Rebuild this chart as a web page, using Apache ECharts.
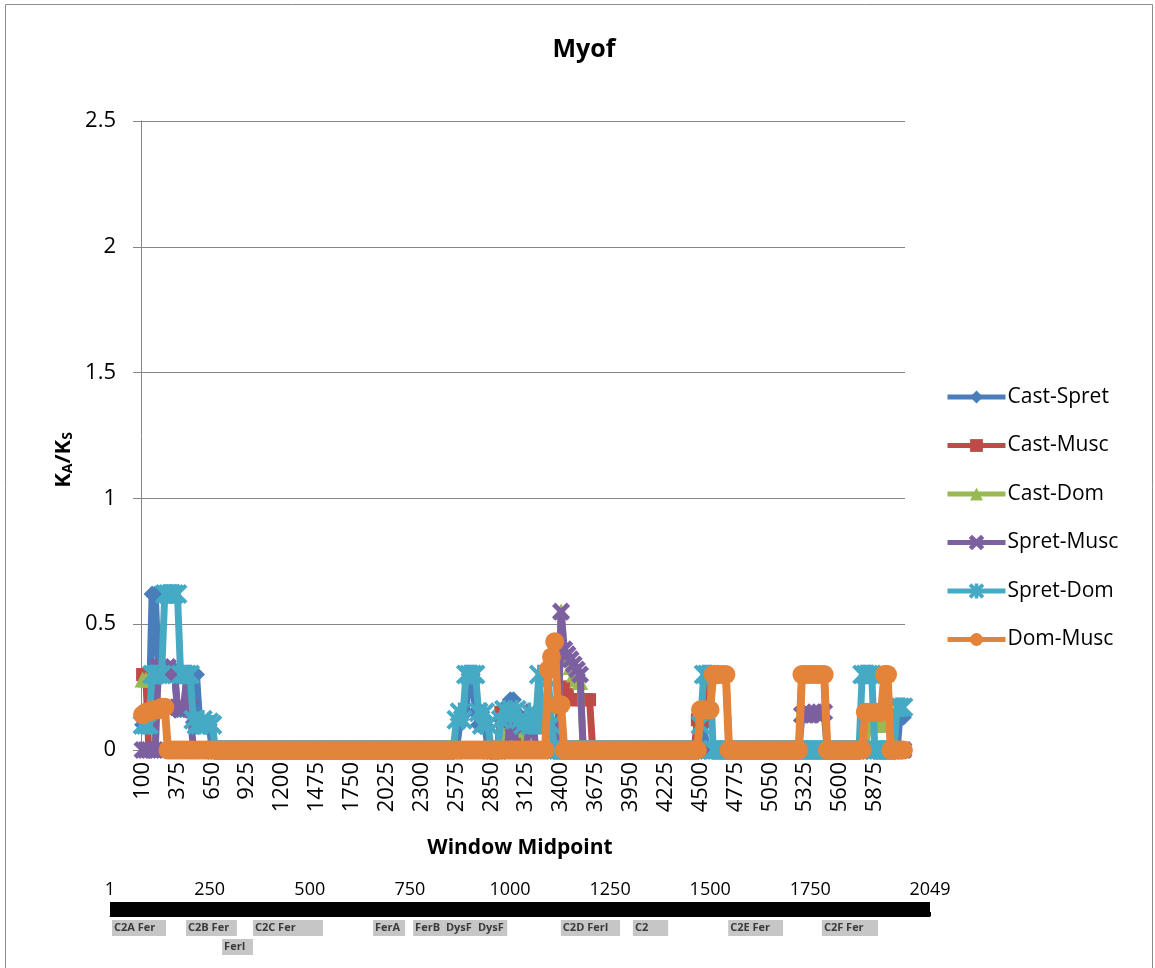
<!DOCTYPE html>
<html>
<head>
<meta charset="utf-8">
<script src="https://cdn.jsdelivr.net/npm/echarts@6/dist/echarts.min.js"></script>
<style>html,body{margin:0;padding:0;background:#fff}#c{width:1155px;height:968px}</style>
</head>
<body>
<div id="c"></div>
<script>
// ---- DATA ----
// Window midpoints: 100, 125, ... 6100 (step 25)
const windowStart = 100, windowStep = 25, windowCount = 241;
const categories = Array.from({length: windowCount}, (_, i) => String(windowStart + windowStep * i));
const seriesNames = ['Cast-Spret', 'Cast-Musc', 'Cast-Dom', 'Spret-Musc', 'Spret-Dom', 'Dom-Musc'];

// Runs of consecutive window values: [first midpoint, [values...]]; windows not listed read as 0
const castSpret = [
  [100, [0.1,0.1,0.1,0.62,0.62,0.3,0.3,0.32,0.3,0.32,0.32,0.16,0.16,0.16,0.3,0.3,0.11,0.3,0.11,0.1,0.1,0.1]],
  [2600, [0.1,0.15,0.15,0.3,0.3,0.15,0.1,0.15,0.1]],
  [2925, [0.12,0.15,0.18,0.2,0.2,0.15,0.12,0.1]],
  [4500, [0.1,0.1]],
  [6075, [0.15,0.13]]
];
const castMusc = [
  [100, [0.3,0.3]],
  [2925, [0.15,0.15,0.12,0.1,0.12,0.1]],
  [3375, [0.1,0.25,0.25,0.22,0.2,0.2,0.2,0.2,0.2,0.2,0.2]],
  [4475, [0.12,0.12,0.12,0.12,0.3,0.3,0.3,0.3,0.3,0.3]],
  [5300, [0.3,0.3,0.3,0.3,0.3,0.3,0.3,0.3]]
];
const castDom = [
  [100, [0.28,0.28,0.28,0.28]],
  [2975, [0.1,0.12,0.1,0.08,0.08,0.08]],
  [3300, [0.1,0.1,0.1,0.1,0.55,0.4,0.37,0.33,0.3,0.28,0.27]],
  [5825, [0.1,0.1,0.1,0.1,0.1,0.1,0.1,0.1]]
];
const spretMusc = [
  [225, [0.33,0.33,0.3,0.33,0.3,0.32,0.17,0.16,0.17,0.3,0.17]],
  [3000, [0.12,0.1]],
  [3150, [0.12,0.15]],
  [3400, [0.55,0.4,0.38,0.36,0.34,0.32,0.3]],
  [5300, [0.14,0.14,0.15,0.14,0.15,0.14,0.14,0.15]]
];
const spretDom = [
  [100, [0.1,0.1,0.1,0.3,0.3,0.3,0.3,0.62,0.62,0.62,0.62,0.62,0.3,0.3,0.3,0.3,0.12,0.1,0.1,0.12,0.1,0.11,0.1]],
  [2575, [0.12,0.15,0.12,0.3,0.3,0.3,0.3,0.15,0.1,0.15,0.1]],
  [2925, [0.12,0.16,0.15,0.13,0.15,0.16,0.12,0.1,0.12,0.15,0.1,0.1,0.3,0.1,0.1,0.28,0.1]],
  [4500, [0.1,0.3,0.3,0.3]],
  [5775, [0.3,0.3,0.3,0.3]],
  [6050, [0.17,0.17,0.17]]
];
const domMusc = [
  [100, [0.14,0.15,0.15,0.16,0.16,0.16,0.17,0.17]],
  [3300, [0.32,0.37,0.43,0.18,0.18]],
  [4500, [0.16,0.16,0.16,0.16,0.3,0.3,0.3,0.3,0.3]],
  [5300, [0.3,0.3,0.3,0.3,0.3,0.3,0.3,0.3]],
  [5800, [0.15,0.15,0.15,0.15,0.15,0.15,0.3,0.3]]
];

// Protein domain map (amino-acid positions)
const proteinLength = 2049;
const mapLabels = [1, 250, 500, 750, 1000, 1250, 1500, 1750, 2049];
const domainNames = ['C2A Fer', 'C2B Fer', 'FerI', 'C2C Fer', 'FerA', 'FerB', 'DysF', 'DysF', 'C2D FerI', 'C2', 'C2E Fer', 'C2F Fer'];
const domainStart = [6, 191, 281, 358, 658, 758, 835, 915, 1127, 1307, 1545, 1779];
const domainEnd   = [141, 318, 358, 533, 738, 835, 915, 993, 1275, 1395, 1682, 1919];
const domainRow   = [0, 0, 1, 0, 0, 0, 0, 0, 0, 0, 0, 0];

// ---- BUILD ----
function expand(runs) {
  const arr = new Array(windowCount).fill(0);
  runs.forEach(([mid, vals]) => {
    const i0 = (mid - windowStart) / windowStep;
    vals.forEach((v, k) => { arr[i0 + k] = v; });
  });
  return arr;
}
const allRuns = [castSpret, castMusc, castDom, spretMusc, spretDom, domMusc];
const colors = ['#4A7EBB', '#BE4B48', '#98B954', '#7D60A0', '#46AAC5', '#E3843A'];
const xPath = 'path://M0,1.5L1.5,0L5,3.5L8.5,0L10,1.5L6.5,5L10,8.5L8.5,10L5,6.5L1.5,10L0,8.5L3.5,5Z';
const astPath = 'path://M0,1L1,0L5,4L9,0L10,1L6,5L10,9L9,10L5,6L1,10L0,9L4,5Z M4.4,0L5.6,0L5.6,10L4.4,10Z';
const symbols = ['diamond', 'rect', 'triangle', xPath, astPath, 'circle'];
const symSizes = [17, 13, 16, 16, 18, 19];
const lineWidths = [7, 7, 7, 7, 7, 8];
const font = '"Open Sans", "Liberation Sans", sans-serif';

const lineSeries = seriesNames.map((n, k) => ({
  name: n, type: 'line', xAxisIndex: 0, yAxisIndex: 0,
  data: expand(allRuns[k]),
  symbol: symbols[k], symbolSize: symSizes[k], showSymbol: true, showAllSymbol: true,
  lineStyle: {color: colors[k], width: lineWidths[k], join: 'round'},
  itemStyle: {color: colors[k], borderColor: colors[k], borderWidth: (k === 3 || k === 4) ? 1.5 : 0},
  emphasis: {disabled: true},
  z: 2 + k
}));

const chart = echarts.init(document.getElementById('c'), null, {renderer: 'canvas'});
chart.setOption({
  animation: false,
  backgroundColor: '#fff',
  textStyle: {fontFamily: font},
  grid: [
    {left: 141, top: 121, width: 764, height: 629},
    {left: 110, top: 902, width: 820, height: 14, show: true, backgroundColor: '#000', borderWidth: 0}
  ],
  legend: {
    data: seriesNames, orient: 'vertical', left: 945, top: 386,
    itemWidth: 58, itemHeight: 16, itemGap: 26.5, padding: 0,
    lineStyle: {width: 5},
    textStyle: {fontSize: 21, color: '#000', fontFamily: font, lineHeight: 22, padding: [0, 0, 0, -3]}
  },
  xAxis: [
    {type: 'category', gridIndex: 0, data: categories, boundaryGap: true,
     axisLine: {lineStyle: {color: '#868686', width: 1}},
     axisTick: {show: false},
     axisLabel: {interval: 10, rotate: 90, fontSize: 22, color: '#000', margin: 12, fontFamily: font},
     splitLine: {show: false}},
    {type: 'value', gridIndex: 1, min: 1, max: proteinLength, position: 'top',
     axisLine: {show: true, lineStyle: {color: '#000', width: 1}},
     axisTick: {show: true, length: 4, inside: false,
       customValues: [1].concat(Array.from({length: 40}, (_, i) => 50 * (i + 1)), [proteinLength]),
       lineStyle: {color: '#000'}},
     axisLabel: {customValues: mapLabels, fontSize: 18, color: '#000', margin: 3, fontFamily: font,
       formatter: v => String(v)},
     splitLine: {show: false}}
  ],
  yAxis: [
    {type: 'value', gridIndex: 0, min: 0, max: 2.5, interval: 0.5,
     axisLine: {show: true, lineStyle: {color: '#868686', width: 1}},
     axisTick: {show: true, length: 8, lineStyle: {color: '#868686'}},
     axisLabel: {fontSize: 22, color: '#000', margin: 25, fontFamily: font},
     splitLine: {show: true, lineStyle: {color: '#868686', width: 1}}},
    {type: 'value', gridIndex: 1, min: 0, max: 1, show: false}
  ],
  series: lineSeries.concat([{
    type: 'custom', xAxisIndex: 1, yAxisIndex: 1, clip: false, silent: true,
    data: domainNames.map((n, i) => [domainStart[i], domainEnd[i], domainRow[i]]),
    encode: {x: [0, 1]},
    renderItem: function (params, api) {
      const p1 = api.coord([api.value(0), 0]);
      const p2 = api.coord([api.value(1), 0]);
      const cs = params.coordSys;
      const top = cs.y + cs.height + 4 + api.value(2) * 19;
      return {type: 'group', children: [
        {type: 'rect', shape: {x: p1[0], y: top, width: p2[0] - p1[0], height: 16}, style: {fill: '#c6c6c6'}},
        {type: 'text', style: {text: domainNames[params.dataIndex], x: p1[0] + 2, y: top + 8,
          verticalAlign: 'middle', font: 'bold 11px "Open Sans"', fill: '#3a3a3a'}}
      ]};
    }
  }]),
  graphic: [
    {type: 'rect', shape: {x: 5.5, y: 4.5, width: 1147, height: 1000}, style: {fill: null, stroke: '#8c8c8c', lineWidth: 1}, silent: true, z: -10},
    {type: 'text', x: 584, y: 50, style: {text: 'Myof', font: 'bold 25px "Open Sans"', fill: '#000', align: 'center', verticalAlign: 'middle'}},
    {type: 'text', x: 520, y: 848, style: {text: 'Window Midpoint', font: 'bold 21px "Open Sans"', fill: '#000', align: 'center', verticalAlign: 'middle'}},
    {type: 'text', x: 60, y: 460, rotation: Math.PI / 2,
     style: {text: '{a|K}{b|A}{a|/K}{b|S}', align: 'center', verticalAlign: 'middle',
       rich: {a: {font: 'bold 22px "Open Sans"', fill: '#000', lineHeight: 30, verticalAlign: 'bottom'},
              b: {font: 'bold 14px "Open Sans"', fill: '#000', lineHeight: 30, verticalAlign: 'bottom', padding: [0, 0, 0, 0]}}}}
  ]
});
</script>
</body>
</html>
